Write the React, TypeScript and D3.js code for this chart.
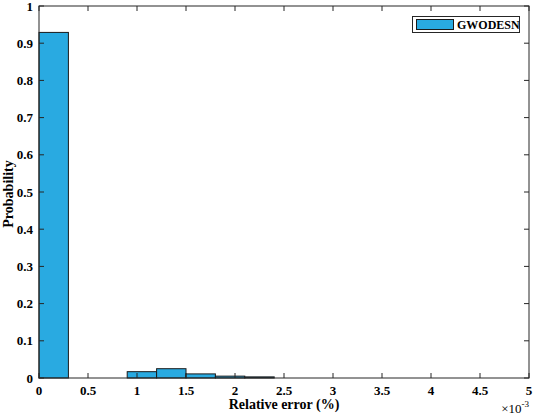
import React, { useEffect, useRef } from 'react';
import * as d3 from 'd3';

// histogram bins (x in units of 1e-3 %)
const binStarts = [0, 0.3, 0.6, 0.9, 1.2, 1.5, 1.8, 2.1];
const binWidth = 0.3;
const probabilities = [0.929, 0, 0, 0.017, 0.025, 0.011, 0.005, 0.003];
const xTicks = [0, 0.5, 1, 1.5, 2, 2.5, 3, 3.5, 4, 4.5, 5];
const yTicks = [0, 0.1, 0.2, 0.3, 0.4, 0.5, 0.6, 0.7, 0.8, 0.9, 1];
const seriesName = 'GWODESN';

const W = 533;
const H = 417;
const margin = { top: 6, right: 4, bottom: 39, left: 39 };

const App = () => {
  const ref = useRef<SVGSVGElement>(null);

  useEffect(() => {
    const svg = d3.select(ref.current);
    svg.selectAll('*').remove();
    const font = '"Liberation Serif", "Times New Roman", serif';

    const x = d3.scaleLinear().domain([0, 5]).range([margin.left, W - margin.right]);
    const y = d3.scaleLinear().domain([0, 1]).range([H - margin.bottom, margin.top]);

    svg.append('rect').attr('width', W).attr('height', H).attr('fill', '#fff');

    const bins = binStarts.map((s, i) => ({ s, p: probabilities[i] })).filter(d => d.p > 0);
    svg.append('g').selectAll('rect').data(bins).enter().append('rect')
      .attr('x', d => x(d.s))
      .attr('y', d => y(d.p))
      .attr('width', d => x(d.s + binWidth) - x(d.s))
      .attr('height', d => y(0) - y(d.p))
      .attr('fill', '#29aae1')
      .attr('stroke', '#1a1a1a')
      .attr('stroke-width', 1);

    const axisColor = '#262626';
    const tl = 5;
    const g = svg.append('g').attr('stroke', axisColor).attr('stroke-width', 1);
    xTicks.forEach(t => {
      g.append('line').attr('x1', x(t)).attr('x2', x(t)).attr('y1', y(0)).attr('y2', y(0) - tl);
      g.append('line').attr('x1', x(t)).attr('x2', x(t)).attr('y1', y(1)).attr('y2', y(1) + tl);
    });
    yTicks.forEach(t => {
      g.append('line').attr('x1', x(0)).attr('x2', x(0) + tl).attr('y1', y(t)).attr('y2', y(t));
      g.append('line').attr('x1', x(5)).attr('x2', x(5) - tl).attr('y1', y(t)).attr('y2', y(t));
    });
    g.append('rect')
      .attr('x', x(0)).attr('y', y(1))
      .attr('width', x(5) - x(0)).attr('height', y(0) - y(1))
      .attr('fill', 'none');

    const labels = svg.append('g').attr('font-family', font).attr('font-weight', 'bold')
      .attr('font-size', 13).attr('fill', '#000');
    xTicks.forEach(t => {
      labels.append('text').attr('x', x(t)).attr('y', y(0) + 17)
        .attr('text-anchor', 'middle').text(String(t));
    });
    yTicks.forEach(t => {
      labels.append('text').attr('x', x(0) - 6).attr('y', y(t) + 4.5)
        .attr('text-anchor', 'end').text(String(t));
    });
    labels.append('text').attr('x', x(2.5)).attr('y', 409).attr('font-size', 14)
      .attr('text-anchor', 'middle').text('Relative error (%)');
    labels.append('text').attr('font-size', 14)
      .attr('transform', `translate(13,194) rotate(-90)`)
      .attr('text-anchor', 'middle').text('Probability');

    const exp = labels.append('text').attr('x', x(5)).attr('y', H - 4)
      .attr('text-anchor', 'end').attr('font-weight', 'normal');
    exp.append('tspan').text('×10');
    exp.append('tspan').attr('dy', -6).attr('font-size', 9).text('-3');

    // legend
    const lg = svg.append('g');
    lg.append('rect').attr('x', 412.5).attr('y', 16.5).attr('width', 107).attr('height', 16)
      .attr('fill', '#fff').attr('stroke', axisColor);
    lg.append('rect').attr('x', 416.5).attr('y', 19.5).attr('width', 37).attr('height', 10)
      .attr('fill', '#29aae1').attr('stroke', '#1a1a1a');
    lg.append('text').attr('x', 457).attr('y', 29).attr('font-family', font)
      .attr('font-weight', 'bold').attr('font-size', 12).text(seriesName);
  }, []);

  return <svg ref={ref} width={W} height={H} style={{ display: 'block', position: 'absolute', left: 0, top: 0 }} />;
};

export default App;
